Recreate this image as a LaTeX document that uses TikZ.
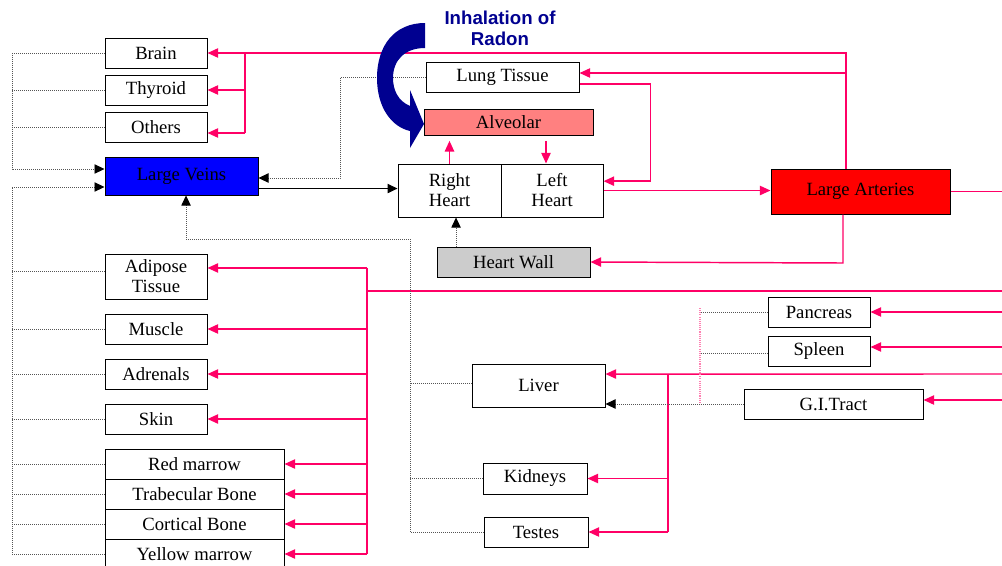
\documentclass[tikz,border=0pt]{standalone}
\usepackage{fontspec}
\setmainfont{Liberation Serif}
\newfontfamily\titlefont{Liberation Sans}
\usetikzlibrary{arrows.meta}

\definecolor{artpink}{HTML}{FF0066}
\definecolor{radonblue}{HTML}{000090}
\definecolor{veinblue}{HTML}{0000FF}
\definecolor{alvsalmon}{HTML}{FF8080}
\definecolor{wallgray}{HTML}{CCCCCC}
\definecolor{dotgray}{HTML}{555555}

\tikzset{
	organ/.style 2 args={draw=black, line width=0.75pt, inner sep=0pt,
		minimum width=#1*0.75pt, minimum height=#2*0.75pt,
		font=\fontsize{14}{15}\selectfont, align=center},
	pkline/.style={draw=artpink, line width=1.1pt},
	pk/.style={pkline, -{Triangle[length=8pt,width=7pt]}},
	dt/.style={draw=dotgray, line width=0.6pt, dash pattern=on 0.6pt off 0.9pt},
	dtarr/.style={dt, -{Triangle[length=7.5pt,width=7pt,color=black]}},
	pkdot/.style={draw=artpink!50, line width=0.9pt, dash pattern=on 0.8pt off 0.8pt},
}

\begin{document}
\begin{tikzpicture}[x=0.75pt,y=-0.75pt]
	\useasboundingbox (0,0) rectangle (1002,565);

	% organs
	\node[organ={102}{30}] (brain) at (156,53) {Brain};
	\node[organ={102}{30}] (thyroid) at (156,90) {Thyroid};
	\node[organ={102}{30}] (others) at (156,127) {Others};
	\node[organ={153}{38}, fill=veinblue] (veins) at (181.5,176) {Large Veins};
	\node[organ={153}{30}] (lung) at (502.5,77) {Lung Tissue};
	\node[organ={169}{26}, fill=alvsalmon] (alveolar) at (508.5,122) {Alveolar};
	\node[organ={103}{53}] (rheart) at (449.5,190.5) {Right\\Heart};
	\node[organ={102}{53}] (lheart) at (552,190.5) {Left\\Heart};
	\node[organ={153}{30}, fill=wallgray] (hwall) at (513.5,262) {Heart Wall};
	\node[organ={179}{45}, fill=red] (arteries) at (860.5,191.5) {Large Arteries};

	\node[organ={102}{45}] (adipose) at (156,276.5) {Adipose\\Tissue};
	\node[organ={102}{30}] (muscle) at (156,329) {Muscle};
	\node[organ={102}{30}] (adrenals) at (156,374) {Adrenals};
	\node[organ={102}{30}] (skin) at (156,419) {Skin};
	\node[organ={179}{30}] (redm) at (194.5,464) {Red marrow};
	\node[organ={179}{30}] (trab) at (194.5,494) {Trabecular Bone};
	\node[organ={179}{30}] (cort) at (194.5,524) {Cortical Bone};
	\node[organ={179}{30}] (yellow) at (194.5,554) {Yellow marrow};

	\node[organ={133}{43}] (liver) at (538.5,385.5) {Liver};
	\node[organ={104}{31}] (kidneys) at (535,478.5) {Kidneys};
	\node[organ={104}{30}] (testes) at (536,532) {Testes};
	\node[organ={102}{30}] (pancreas) at (819,312) {Pancreas};
	\node[organ={102}{30}] (spleen) at (819,351) {Spleen};
	\node[organ={179}{30}] (gitract) at (833.5,404) {G.I.Tract};

	% junctions
	\coordinate (redge) at (1002,0);
	\coordinate (atop) at (846,53);
	\coordinate (bsplit) at (245,53);
	\coordinate (bend) at (245,133);
	\coordinate (abot) at (843,263);
	\coordinate (tsplit) at (367,291);
	\coordinate (lsplit) at (668,374);
	\coordinate (lbus) at (12,0);
	\coordinate (lbend) at (340,0);
	\coordinate (mbus) at (410,239);
	\coordinate (pbus) at (700,308);

	% arterial side
	\draw[pk] (arteries.north -| atop) -- (atop) -- (brain.east);
	\draw[pk] (atop |- 0,73) -- ([yshift=3pt]lung.east);
	\draw[pkline] (bsplit) -- (bend);
	\draw[pk] (bsplit |- thyroid.east) -- (thyroid.east);
	\draw[pk] (bend) -- ([yshift=-4.5pt]others.east);
	\draw[pk] ([yshift=-5.25pt]lung.east) -- ++(71,0) |- ([yshift=7pt]lheart.east);
	\draw[pk] (lheart.east) -- (lheart.east -| arteries.west);
	\draw[pkline] (arteries.east) -- (arteries.east -| redge);
	\draw[pk] (arteries.south -| abot) -- (abot) -- (hwall.east);
	\draw[pk, shorten >=4pt] (rheart.north) -- (rheart.north |- alveolar.south);
	\draw[pk, shorten <=4pt] ([xshift=-4.5pt]lheart.north |- alveolar.south) -- ([xshift=-4.5pt]lheart.north);

	\draw[pkline] (tsplit) -- (redge |- tsplit);
	\draw[pkline] ([yshift=6.4pt]adipose.east -| tsplit) -- (tsplit |- yellow.east);
	\draw[pk] ([yshift=6.4pt]adipose.east -| tsplit) -- ([yshift=6.4pt]adipose.east);
	\foreach \n in {muscle,adrenals,skin,redm,trab,cort,yellow}
		\draw[pk] (tsplit |- \n.east) -- (\n.east);

	\draw[pk] (redge |- pancreas.east) -- (pancreas.east);
	\draw[pk] ([yshift=3pt]redge |- spleen.east) -- ([yshift=3pt]spleen.east);
	\draw[pk] (redge |- lsplit) -- ([yshift=8.6pt]liver.east);
	\draw[pk] ([yshift=3pt]redge |- gitract.east) -- ([yshift=3pt]gitract.east);
	\draw[pkline] (lsplit) -- (lsplit |- testes.east);
	\draw[pk] (lsplit |- kidneys.east) -- (kidneys.east);
	\draw[pk] (lsplit |- testes.east) -- (testes.east);

	% venous side
	\draw[dtarr] (brain.west) -- (brain.west -| lbus) |- ([yshift=5.25pt]veins.west);
	\draw[dt] (thyroid.west) -- (thyroid.west -| lbus);
	\draw[dt] (others.west) -- (others.west -| lbus);
	\draw[dtarr] (yellow.west) -- (yellow.west -| lbus) |- ([yshift=-8.25pt]veins.west);
	\draw[dt] ([yshift=4pt]adipose.west) -- ([yshift=4pt]adipose.west -| lbus);
	\foreach \n in {muscle,adrenals,skin,redm,trab,cort}
		\draw[dt] (\n.west) -- (\n.west -| lbus);

	\draw[dtarr] (lung.west) -- (lung.west -| lbend) |- ([yshift=-1.5pt]veins.east);
	\draw[-{Triangle[length=7.5pt,width=7pt]}, line width=0.8pt]
		([yshift=-9.4pt]veins.east) -- ([yshift=-9.4pt]veins.east -| rheart.west);
	\draw[dtarr] ([xshift=4.9pt]rheart.south |- hwall.north) -- ([xshift=4.9pt]rheart.south);

	\draw[dtarr] (testes.west) -- (testes.west -| mbus) -- (mbus) -| ([xshift=3.4pt]veins.south);
	\draw[dt] ([yshift=1.9pt]liver.west) -- ([yshift=1.9pt]liver.west -| mbus);
	\draw[dt] (kidneys.west) -- (kidneys.west -| mbus);

	\draw[pkdot] (pbus) -- (pbus |- gitract.west);
	\draw[dt] (pancreas.west) -- (pancreas.west -| pbus);
	\draw[dt] ([yshift=-1.5pt]spleen.west) -- ([yshift=-1.5pt]spleen.west -| pbus);
	\draw[dtarr] (gitract.west) -- (gitract.west -| liver.east);

	% inhalation
	\node[font=\titlefont\bfseries\fontsize{14}{15.75}\selectfont, text=radonblue, align=center]
		(inhal) at (500,28.5) {Inhalation of\\Radon};
	\fill[radonblue] (425,23) .. controls (395,23) and (377,45) .. (377,78)
		.. controls (377,108) and (392,127) .. (410,131) -- (410,148) -- (424,124)
		-- (410,90) -- (410,106) .. controls (398,101) and (393,90) .. (393,78)
		.. controls (393,60) and (405,48) .. (425,48) -- cycle;
\end{tikzpicture}
\end{document}
